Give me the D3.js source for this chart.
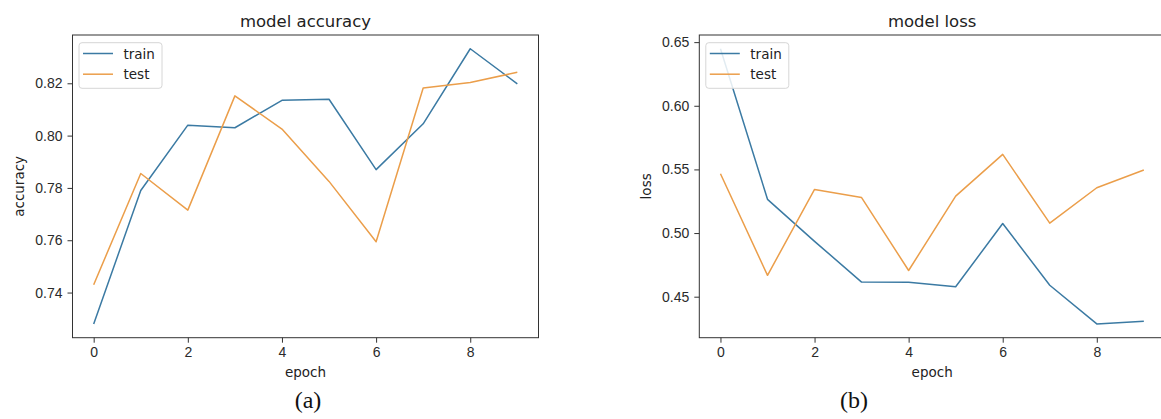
<!DOCTYPE html>
<html>
<head>
<meta charset="utf-8">
<script src="https://cdn.jsdelivr.net/npm/d3@7"></script>
<style>
    body { margin: 0; background: #fff; }
    svg { display: block; font-family: "DejaVu Sans", sans-serif; }
    .tick text { fill: #2a2a2a; font-size: 14px; }
    .tick line { stroke: #333; }
</style>
</head>
<body>
<div id="main"></div>
<script>
// values
var epochs = [0, 1, 2, 3, 4, 5, 6, 7, 8, 9];
var accTrain = [0.728, 0.779, 0.804, 0.803, 0.8135, 0.8139, 0.787, 0.8045, 0.8332, 0.8198];
var accTest  = [0.743, 0.7855, 0.7715, 0.8152, 0.8025, 0.7825, 0.7594, 0.8182, 0.8203, 0.8242];
var lossTrain = [0.6448, 0.5265, 0.4935, 0.4615, 0.4613, 0.4578, 0.5075, 0.459, 0.4286, 0.4308];
var lossTest  = [0.5466, 0.4668, 0.5343, 0.5279, 0.4706, 0.529, 0.5618, 0.5078, 0.5356, 0.5496];
var xTicks = [0, 2, 4, 6, 8];
var accTicks = [0.74, 0.76, 0.78, 0.80, 0.82];
var lossTicks = [0.45, 0.50, 0.55, 0.60, 0.65];
var seriesNames = ["train", "test"];

const w = 1161;
const h = 419;
const colors = ["#3b7aa3", "#eb9e4a"];

const svg = d3.select("#main").append("svg").attr("width", w).attr("height", h);

// matplotlib style 5% margins
function padded(ext) {
    var m = (ext[1] - ext[0]) * 0.05;
    return [ext[0] - m, ext[1] + m];
}

function drawPanel(opt) {
    var top = 35, bottom = 337.7;
    const xScale = d3.scaleLinear()
        .domain(padded(d3.extent(epochs)))
        .range([opt.left, opt.right]);
    const yScale = d3.scaleLinear()
        .domain(padded(d3.extent(opt.train.concat(opt.test))))
        .range([bottom, top]);

    const g = svg.append("g");

    // frame
    g.append("rect")
        .attr("x", opt.left).attr("y", top)
        .attr("width", opt.right - opt.left).attr("height", bottom - top)
        .attr("fill", "none").attr("stroke", "#333").attr("stroke-width", 1);

    const line = d3.line()
        .x((d, i) => xScale(epochs[i]))
        .y(d => yScale(d));

    [opt.train, opt.test].forEach(function (s, i) {
        g.append("path")
            .datum(s)
            .attr("d", line)
            .attr("fill", "none")
            .attr("stroke", colors[i])
            .attr("stroke-width", 1.5)
            .attr("stroke-linejoin", "round");
    });

    const xAxis = d3.axisBottom(xScale).tickValues(xTicks).tickFormat(d3.format("d")).tickSize(5).tickPadding(4);
    const yAxis = d3.axisLeft(yScale).tickValues(opt.yTicks).tickFormat(d3.format(".2f")).tickSize(5).tickPadding(5);

    g.append("g")
        .attr("transform", "translate(0," + bottom + ")")
        .call(xAxis)
        .call(a => a.select(".domain").remove());
    g.append("g")
        .attr("transform", "translate(" + opt.left + ",0)")
        .call(yAxis)
        .call(a => a.select(".domain").remove());

    var cx = (opt.left + opt.right) / 2;
    g.append("text")
        .attr("x", cx).attr("y", 27)
        .attr("text-anchor", "middle")
        .style("font-size", "16.5px").style("fill", "#222")
        .text(opt.title);

    g.append("text")
        .attr("x", cx).attr("y", 377)
        .attr("text-anchor", "middle")
        .style("font-size", "13.5px").style("fill", "#222")
        .text("epoch");

    g.append("text")
        .attr("transform", "translate(" + opt.ylabX + "," + (top + bottom) / 2 + ") rotate(-90)")
        .attr("text-anchor", "middle")
        .style("font-size", "13.5px").style("fill", "#222")
        .text(opt.ylabel);

    // legend
    var lx = opt.left + 6.5;
    g.append("rect")
        .attr("x", lx).attr("y", 42.7)
        .attr("width", 83).attr("height", 45.6)
        .attr("rx", 3)
        .attr("fill", "#fff").attr("fill-opacity", 0.85)
        .attr("stroke", "#d6d6d6");
    seriesNames.forEach(function (name, i) {
        var yy = 53.5 + i * 20.7;
        g.append("line")
            .attr("x1", lx + 4).attr("x2", lx + 34)
            .attr("y1", yy).attr("y2", yy)
            .attr("stroke", colors[i]).attr("stroke-width", 1.5);
        g.append("text")
            .attr("x", lx + 44.5).attr("y", yy + 5)
            .style("font-size", "13.5px").style("fill", "#222")
            .text(name);
    });

    svg.append("text")
        .attr("x", opt.capX).attr("y", 408)
        .attr("text-anchor", "middle")
        .style("font-family", "'Liberation Serif', 'Times New Roman', serif")
        .style("font-size", "24px").style("fill", "#111")
        .text(opt.caption);
}

drawPanel({
    left: 72.5, right: 538.5,
    train: accTrain, test: accTest, yTicks: accTicks,
    title: "model accuracy", ylabel: "accuracy", ylabX: 24,
    caption: "(a)", capX: 308
});

drawPanel({
    left: 699.3, right: 1165,
    train: lossTrain, test: lossTest, yTicks: lossTicks,
    title: "model loss", ylabel: "loss", ylabX: 650.5,
    caption: "(b)", capX: 854
});
</script>
</body>
</html>
